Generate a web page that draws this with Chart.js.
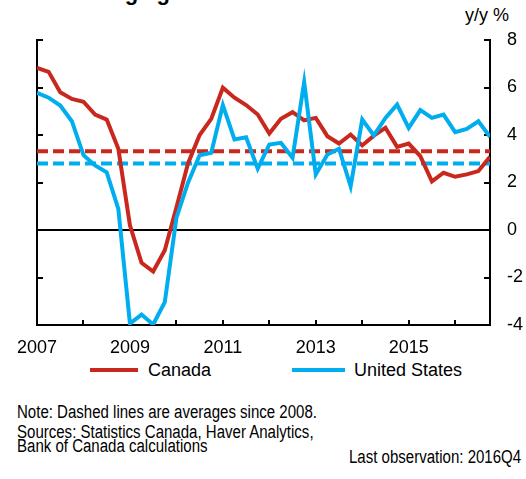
<!DOCTYPE html>
<html><head><meta charset="utf-8">
<script src="https://cdn.jsdelivr.net/npm/chart.js@4/dist/chart.umd.min.js"></script>
<style>
html,body{margin:0;padding:0;background:#fff;width:526px;height:479px;overflow:hidden;font-family:"Liberation Sans",Arial,sans-serif;}
#wrap{position:absolute;left:0;top:0;width:526px;height:360px;}
.t{position:absolute;white-space:nowrap;color:#000;line-height:1;}
.narrow{font-size:18px;transform:scaleX(0.835);transform-origin:left top;}
.sw{position:absolute;height:4px;}
</style></head><body>
<div class="t" id="title" style="left:0;width:534px;text-align:center;top:-17.6px;font-size:22px;font-weight:bold;">Wage growth in the United States</div>
<div class="t" style="left:465px;top:6px;font-size:18px;">y/y %</div>
<div id="wrap"><canvas id="c"></canvas></div>
<div class="sw" style="left:90px;width:48px;top:368px;background:#C8281E;"></div>
<div class="t" id="lgCa" style="left:148px;top:361px;font-size:18px;">Canada</div>
<div class="sw" style="left:292px;width:53px;top:368px;background:#00AEEF;"></div>
<div class="t" id="lgUs" style="left:354px;top:361px;font-size:18px;">United States</div>
<div class="t narrow" style="left:17px;top:402.8px;">Note: Dashed lines are averages since 2008.</div>
<div class="t narrow" style="left:17px;top:423px;">Sources: Statistics Canada, Haver Analytics,</div>
<div class="t narrow" style="left:17px;top:437px;">Bank of Canada calculations</div>
<div class="t narrow" style="right:5px;top:448px;transform-origin:right top;">Last observation: 2016Q4</div>
<script>
// ---- data (quarterly, y/y %) ----
const years = [2007,2008,2009,2010,2011,2012,2013,2014,2015,2016];
const quarterLabels = [];
years.forEach(y => { for (let q = 1; q <= 4; q++) quarterLabels.push(y + 'Q' + q); });

const canada = [6.83,6.66,5.80,5.52, 5.40,4.86,4.65,3.42, 0.20,-1.38,-1.75,-0.85,
                0.95,2.80,4.00,4.68, 5.99,5.57,5.26,4.86, 4.06,4.68,4.96,4.62,
                4.72,3.95,3.64,4.02, 3.56,3.97,4.30,3.50, 3.64,3.11,2.05,2.41,
                2.24,2.34,2.48,3.08];
const unitedStates = [5.78,5.57,5.24,4.58, 3.15,2.72,2.43,0.89, -3.94,-3.56,-3.98,-3.04,
                0.51,1.99,3.15,3.25, 5.26,3.81,3.90,2.58, 3.60,3.67,3.04,6.22,
                2.34,3.18,3.42,1.84, 4.65,3.98,4.72,5.28, 4.30,5.05,4.72,4.86,
                4.12,4.26,4.58,3.92];
const canadaAvg = 3.32;
const unitedStatesAvg = 2.80;
const xTickLabels = ['2007','2009','2011','2013','2015'];
const yTicks = [-4,-2,0,2,4,6,8];

const RED = '#C8281E', BLUE = '#00AEEF';
const qx = lbl => parseInt(lbl.slice(0,4)) + (parseInt(lbl.slice(5)) - 1) / 4;
const toPts = arr => arr.map((v, i) => ({x: qx(quarterLabels[i]), y: v}));
const xFirst = qx(quarterLabels[0]), xLast = qx(quarterLabels[quarterLabels.length - 1]);
const avgPts = v => [{x: xFirst, y: v}, {x: xLast, y: v}];

const base = {pointRadius:0, pointHoverRadius:0, borderWidth:4, tension:0, fill:false, borderJoinStyle:'miter', yAxisID:'y2'};
new Chart(document.getElementById('c'), {
  type: 'line',
  data: { datasets: [
    Object.assign({label:'United States', data: toPts(unitedStates), borderColor: BLUE, backgroundColor: BLUE}, base),
    Object.assign({label:'Canada', data: toPts(canada), borderColor: RED, backgroundColor: RED}, base),
    Object.assign({label:'Canada average', data: avgPts(canadaAvg), borderColor: RED, borderDash:[11,5]}, base),
    Object.assign({label:'United States average', data: avgPts(unitedStatesAvg), borderColor: BLUE, borderDash:[11,5]}, base)
  ]},
  options: {
    animation: false, responsive: true, maintainAspectRatio: false,
    layout: {padding: {top: 40, left: 0, right: 0, bottom: 0}},
    plugins: {legend: {display: false}, tooltip: {enabled: false}, title: {display: false}},
    scales: {
      x: {
        type: 'linear', min: xFirst, max: xLast,
        afterFit: s => { s.height = 35; },
        ticks: {stepSize: 1, includeBounds: false, autoSkip: false, maxRotation: 0, minRotation: 0,
          padding: 17, color: '#000', font: {size: 18, family: '"Liberation Sans", Arial, sans-serif'},
          callback: v => xTickLabels.includes(String(v)) ? String(v) : ''},
        grid: {drawOnChartArea: false, drawTicks: true, tickLength: -5, color: '#000', tickColor: '#000', lineWidth: 2},
        border: {display: true, color: '#000', width: 2}
      },
      y: {
        type: 'linear', position: 'left', min: -4, max: 8,
        afterFit: s => { s.width = 35; },
        ticks: {display: false, stepSize: 2},
        grid: {drawOnChartArea: false, drawTicks: true, tickLength: -6, color: '#000', tickColor: '#000', lineWidth: 2},
        border: {display: true, color: '#000', width: 2}
      },
      y2: {
        type: 'linear', position: 'right', min: -4, max: 8,
        afterFit: s => { s.width = 36; },
        afterBuildTicks: s => { s.ticks = yTicks.map(v => ({value: v})); },
        ticks: {padding: 23, color: '#000', font: {size: 18, family: '"Liberation Sans", Arial, sans-serif'}},
        grid: {drawOnChartArea: true, drawTicks: true, tickLength: -6,
          color: c => (c.tick && c.tick.value === 0) ? '#000' : 'rgba(0,0,0,0)',
          tickColor: '#000', lineWidth: 2},
        border: {display: true, color: '#000', width: 2}
      }
    }
  }
});
</script>
</body></html>
